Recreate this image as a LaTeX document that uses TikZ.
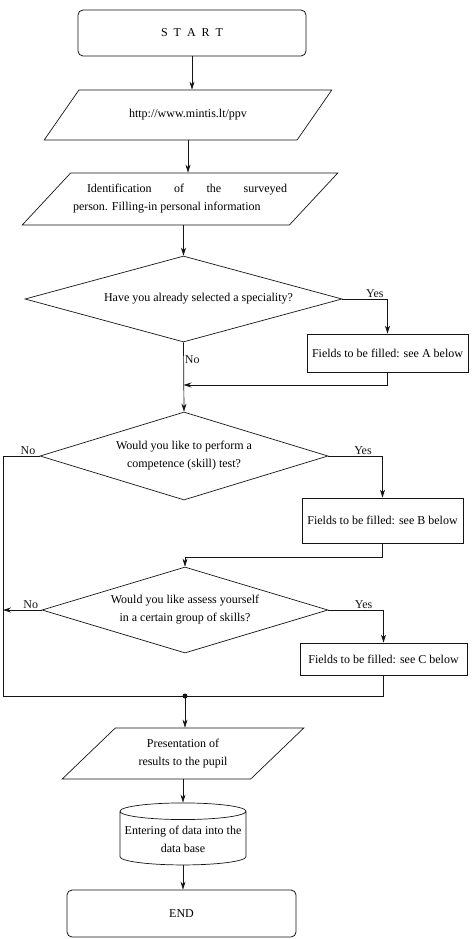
\documentclass[tikz,border=0pt]{standalone}
\usepackage{fontspec}
\setmainfont{Liberation Serif}
\usepackage{tikz}
\usetikzlibrary{shapes.geometric, arrows.meta, positioning, calc}
\definecolor{myline}{RGB}{20,20,20}
\newcommand{\flowfont}{\fontsize{12}{18}\selectfont}
\tikzset{
  terminal/.style={rectangle, draw=myline, rounded corners=5pt,
    minimum width=228pt, minimum height=46pt, font=\flowfont, line width=0.8pt},
  io/.style={trapezium, trapezium stretches=true, draw=myline,
    align=center, font=\flowfont, inner sep=1pt, line width=0.7pt},
  decision/.style={diamond, aspect=3.7, draw=myline, inner sep=0pt,
    align=center, font=\flowfont, line width=0.7pt},
  fieldbox/.style={rectangle, draw=myline, minimum width=161pt,
    font=\flowfont, inner sep=2pt, line width=0.7pt},
  database/.style={cylinder, shape border rotate=90, aspect=0.14, draw=myline,
    minimum width=126pt, minimum height=62pt, align=center, font=\flowfont,
    inner sep=1pt, line width=0.7pt},
  arrow/.style={-{Stealth[length=8pt, width=5pt]}, line width=0.7pt, color=myline},
  line/.style={line width=0.7pt, color=myline},
  lbl/.style={font=\flowfont, inner sep=1pt}
}

\begin{document}
\begin{tikzpicture}[x=1pt, y=-1pt]
  \useasboundingbox (0,0) rectangle (473,939);

  % main column
  \node[terminal] (begin) at (192,33) {S\enspace T\enspace A\enspace R\enspace T};
  \node[io, trapezium left angle=34, trapezium right angle=146,
    minimum width=288pt, minimum height=50pt] (url) at (188,115) {http://www.mintis.lt/ppv};
  \node[io, trapezium left angle=33, trapezium right angle=147,
    minimum width=316pt, minimum height=52pt, text width=214pt, align=justify] (ident) at (180,199)
    {\hspace*{14pt}Identification of the surveyed\linebreak person. Filling-in personal information};
  \node[decision, minimum width=317pt, minimum height=86pt] (d1) at (183.5,299)
    {\hspace*{30pt}Have you already selected a speciality?};
  \node[decision, minimum width=288pt, minimum height=88pt] (d2) at (184,456)
    {Would you like to perform a\\competence (skill) test?};
  \node[decision, minimum width=286pt, minimum height=86pt] (d3) at (185,610)
    {Would you like assess yourself\\in a certain group of skills?};
  \node[io, trapezium left angle=41, trapezium right angle=139,
    minimum width=242pt, minimum height=51pt] (pres) at (183,753.5)
    {Presentation of\\results to the pupil};
  \node[database] (db) at (183,839) {Entering of data into the\\data base};
  \node[terminal, minimum width=229pt, minimum height=47pt] (finish) at (181.5,913.5) {END};

  % side boxes
  \node[fieldbox, minimum height=38pt] (boxa) at (387.5,353) {Fields to be filled: see A below};
  \node[fieldbox, minimum height=45pt] (boxb) at (382.5,520.5) {Fields to be filled: see B below};
  \node[fieldbox, minimum width=167pt, minimum height=32pt] (boxc) at (383.5,659) {Fields to be filled: see C below};

  \coordinate (mergeA) at (183.5,385);
  \coordinate (loop) at (3,696);
  \coordinate (join) at (d3.south |- loop);

  % connectors
  \draw[arrow] (begin.south) -- (begin.south |- url.north);
  \draw[arrow] (url.south) -- (url.south |- ident.north);
  \draw[arrow] (d1.north |- ident.south) -- (d1.north);
  \draw[arrow] (d1.south) -- (d2.north) node[lbl, pos=0.25, right] {No};
  \draw[arrow] (d1.east) -| (boxa.north) node[lbl, pos=0.36, above] {Yes};
  \draw[arrow] (boxa.south) |- (mergeA);

  \draw[arrow] (d2.east) -| (boxb.north) node[lbl, pos=0.32, above] {Yes};
  \draw[line] (d2.west) -- (d2.west -| loop) node[lbl, pos=0.32, above] {No}
    -- (loop) -- (loop -| boxc.south) -- (boxc.south);
  \draw[arrow] (boxb.south) -- ++(0,14) -| (d3.north);

  \draw[arrow] (d3.east) -| (boxc.north) node[lbl, pos=0.32, above] {Yes};
  \draw[arrow] (d3.west) -- (d3.west -| loop) node[lbl, pos=0.28, above] {No};

  \fill[myline] (join) circle (2.5pt);
  \draw[arrow] (join) -- (join |- pres.north);
  \draw[arrow] (pres.south) -- (pres.south |- db.north);
  \draw[arrow] (db.south) -- (db.south |- finish.north);
\end{tikzpicture}
\end{document}
